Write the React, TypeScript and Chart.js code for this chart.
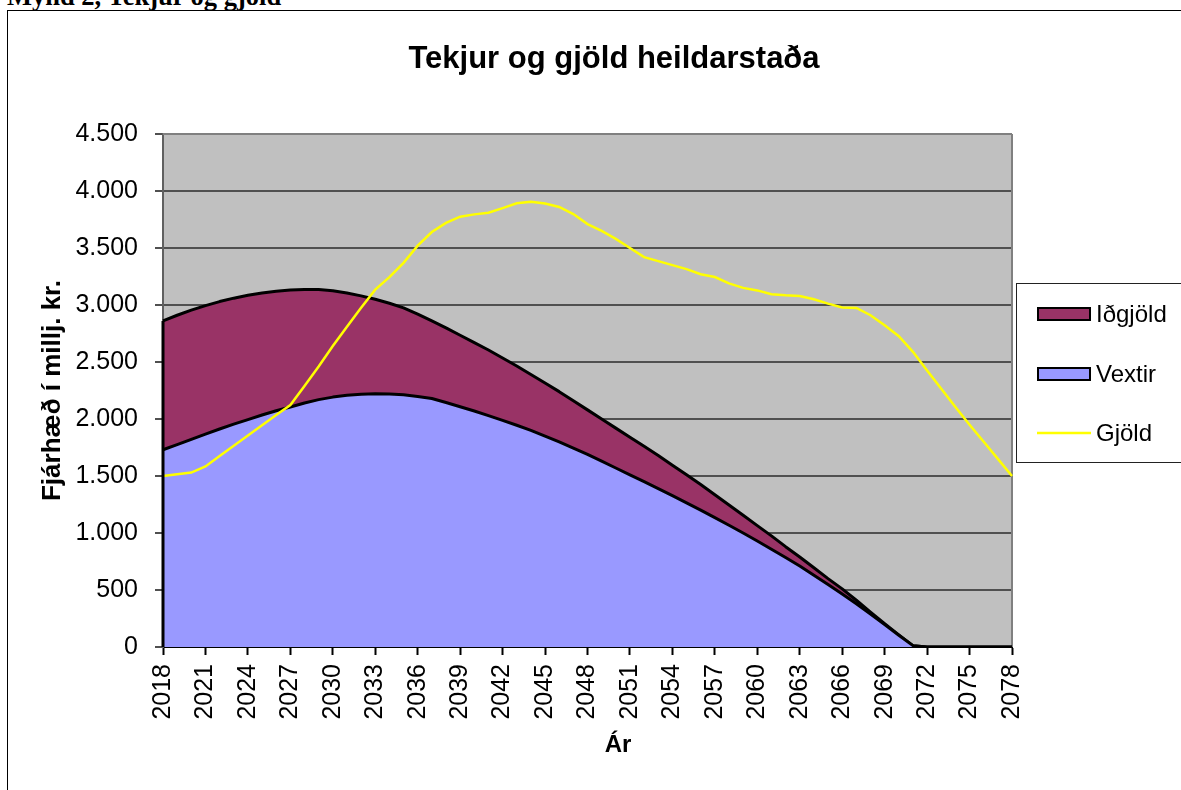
import React, { useEffect, useRef } from 'react';
import { Chart, registerables } from 'chart.js';

Chart.register(...registerables);

const YEARS = [
  '2018', '2019', '2020', '2021', '2022', '2023', '2024', '2025', '2026', '2027',
  '2028', '2029', '2030', '2031', '2032', '2033', '2034', '2035', '2036', '2037',
  '2038', '2039', '2040', '2041', '2042', '2043', '2044', '2045', '2046', '2047',
  '2048', '2049', '2050', '2051', '2052', '2053', '2054', '2055', '2056', '2057',
  '2058', '2059', '2060', '2061', '2062', '2063', '2064', '2065', '2066', '2067',
  '2068', '2069', '2070', '2071', '2072', '2073', '2074', '2075', '2076', '2077',
  '2078',
];

const VEXTIR = [
  1730, 1775, 1822, 1868, 1912, 1955, 1995, 2035, 2072, 2105,
  2140, 2170, 2192, 2208, 2218, 2222, 2220, 2212, 2198, 2180,
  2145, 2108, 2070, 2030, 1988, 1945, 1900, 1850, 1800, 1745,
  1690, 1630, 1570, 1510, 1450, 1390, 1328, 1265, 1200, 1135,
  1068, 1000, 930, 858, 785, 710, 630, 548, 465, 380,
  288, 196, 103, 12, 0, 0, 0, 0, 0, 0,
  0,
];

const IDGJOLD = [
  1130, 1135, 1133, 1127, 1118, 1105, 1090, 1070, 1048, 1027,
  997, 965, 933, 897, 862, 828, 795, 763, 722, 680,
  655, 627, 600, 575, 547, 520, 490, 465, 440, 415,
  390, 370, 350, 330, 310, 290, 267, 245, 225, 200,
  177, 155, 135, 117, 95, 80, 65, 52, 45, 30,
  17, 8, 3, 0, 0, 0, 0, 0, 0, 0,
  0,
];

const GJOLD = [
  1500, 1515, 1530, 1584, 1675, 1765, 1855, 1945, 2035, 2123,
  2290, 2460, 2640, 2810, 2975, 3135, 3245, 3370, 3520, 3640,
  3720, 3775, 3795, 3810, 3850, 3893, 3905, 3890, 3860, 3798,
  3710, 3650, 3580, 3500, 3420, 3385, 3350, 3315, 3270, 3245,
  3190, 3150, 3128, 3095, 3085, 3078, 3050, 3012, 2978, 2974,
  2910, 2822, 2726, 2589, 2425, 2265, 2105, 1950, 1800, 1650,
  1500,
];

const Y_MIN = 0;
const Y_MAX = 4500;
const Y_STEP = 500;

const TITLE = 'Tekjur og gjöld heildarstaða';
const Y_TITLE = 'Fjárhæð í millj. kr.';
const X_TITLE = 'Ár';
const HEADER = 'Mynd 2, Tekjur og gjöld';

const FONT = '"Liberation Sans", Arial, Helvetica, sans-serif';
const CW = 1228;
const CH = 790;

function fmt(v: number): string {
  return String(v).replace(/\B(?=(\d{3})+(?!\d))/g, '.');
}

const decorPlugin = {
  id: 'decor',
  beforeDraw(chart: any) {
    const { ctx, chartArea: a } = chart;
    ctx.save();
    ctx.fillStyle = '#C0C0C0';
    ctx.fillRect(a.left, a.top, a.right - a.left, a.bottom - a.top);
    ctx.restore();
  },
  beforeDatasetsDraw(chart: any) {
    const { ctx, chartArea: a } = chart;
    ctx.save();
    ctx.strokeStyle = '#808080';
    ctx.lineWidth = 2;
    ctx.beginPath();
    ctx.moveTo(a.right, a.top);
    ctx.lineTo(a.right, a.bottom);
    ctx.moveTo(a.left, a.top);
    ctx.lineTo(a.right, a.top);
    ctx.stroke();
    ctx.restore();
  },
  afterDatasetsDraw(chart: any) {
    const { ctx, chartArea: a } = chart;
    const ys = chart.scales.y;
    ctx.save();
    ctx.strokeStyle = '#000';
    ctx.lineWidth = 3;
    ctx.beginPath();
    ctx.moveTo(a.left, ys.getPixelForValue(0));
    ctx.lineTo(a.left, ys.getPixelForValue(VEXTIR[0] + IDGJOLD[0]));
    ctx.stroke();
    ctx.restore();
  },
  afterDraw(chart: any) {
    const { ctx } = chart;
    ctx.save();
    ctx.strokeStyle = '#222';
    ctx.lineWidth = 1;
    ctx.strokeRect(1016.5, 283.5, 260, 179);
    const ds = chart.data.datasets;
    const items = [
      { ds: ds[2], y: 314, kind: 'box' },
      { ds: ds[1], y: 374, kind: 'box' },
      { ds: ds[0], y: 433, kind: 'line' },
    ];
    ctx.font = `24px ${FONT}`;
    ctx.textBaseline = 'middle';
    ctx.textAlign = 'left';
    for (const it of items) {
      if (it.kind === 'box') {
        ctx.fillStyle = it.ds.backgroundColor;
        ctx.fillRect(1038, it.y - 6, 52, 12);
        ctx.strokeStyle = '#000';
        ctx.lineWidth = 2;
        ctx.strokeRect(1038, it.y - 6, 52, 12);
      } else {
        ctx.strokeStyle = it.ds.borderColor;
        ctx.lineWidth = 2.5;
        ctx.beginPath();
        ctx.moveTo(1037, it.y);
        ctx.lineTo(1091, it.y);
        ctx.stroke();
      }
      ctx.fillStyle = '#000';
      ctx.fillText(it.ds.label, 1096, it.y + 1);
    }
    ctx.font = `bold 24px ${FONT}`;
    ctx.textAlign = 'center';
    ctx.fillText(X_TITLE, 618, 745);
    ctx.restore();
  },
};

export default function App() {
  const ref = useRef<HTMLCanvasElement | null>(null);

  useEffect(() => {
    if (!ref.current) return;
    const chart = new Chart(ref.current, {
      type: 'line',
      data: {
        labels: YEARS,
        datasets: [
          {
            label: 'Gjöld',
            data: GJOLD,
            borderColor: '#FFFF00',
            backgroundColor: '#FFFF00',
            borderWidth: 2.5,
            fill: false,
            stack: 'g',
            pointRadius: 0,
            tension: 0,
          },
          {
            label: 'Vextir',
            data: VEXTIR,
            borderColor: '#000000',
            backgroundColor: '#9999FF',
            borderWidth: 3,
            fill: 'origin',
            stack: 's',
            pointRadius: 0,
            tension: 0,
            borderJoinStyle: 'round',
          },
          {
            label: 'Iðgjöld',
            data: IDGJOLD,
            borderColor: '#000000',
            backgroundColor: '#993366',
            borderWidth: 3,
            fill: '-1',
            stack: 's',
            pointRadius: 0,
            tension: 0,
            borderJoinStyle: 'round',
          },
        ],
      } as any,
      options: {
        responsive: false,
        animation: false,
        devicePixelRatio: 1,
        layout: { padding: 0 },
        plugins: {
          legend: { display: false },
          tooltip: { enabled: false },
          title: {
            display: true,
            text: TITLE,
            color: '#000',
            font: { family: FONT, size: 31, weight: 'bold', lineHeight: 1.2 },
            padding: { top: 40.4, bottom: 56.4 },
          },
        },
        scales: {
          x: {
            type: 'category',
            offset: false,
            grid: {
              drawOnChartArea: false,
              drawTicks: true,
              tickLength: 8,
              tickWidth: 2,
              tickColor: (c: any) => (c.index % 3 === 0 ? '#000' : 'rgba(0,0,0,0)'),
            },
            border: { display: true, color: '#000', width: 2 },
            ticks: {
              autoSkip: false,
              minRotation: 90,
              maxRotation: 90,
              padding: 9,
              color: '#000',
              font: { family: FONT, size: 25 },
              callback: (_v: any, i: number) => (i % 3 === 0 ? YEARS[i] : ''),
            },
            afterFit: (s: any) => {
              s.height = 143;
            },
          },
          y: {
            stacked: true,
            min: Y_MIN,
            max: Y_MAX,
            grid: {
              color: '#505050',
              lineWidth: 2,
              drawTicks: true,
              tickLength: 8,
              tickColor: '#505050',
            },
            border: { display: true, color: '#606060', width: 2 },
            ticks: {
              stepSize: Y_STEP,
              padding: 17,
              color: '#000',
              font: { family: FONT, size: 25 },
              callback: (v: any) => fmt(Number(v)),
            },
            title: {
              display: true,
              text: Y_TITLE,
              color: '#000',
              font: { family: FONT, size: 26, weight: 'bold' },
              padding: { top: 37, bottom: 0 },
            },
            afterFit: (s: any) => {
              s.width = 163;
            },
          },
          y2: {
            position: 'right',
            display: true,
            grid: { display: false, drawTicks: false },
            ticks: { display: false },
            border: { display: false },
            afterFit: (s: any) => {
              s.width = CW - 1012;
            },
          },
        },
      } as any,
      plugins: [decorPlugin],
    });
    return () => chart.destroy();
  }, []);

  return (
    <div
      style={{
        position: 'fixed',
        left: 0,
        top: 0,
        width: 1181,
        height: 790,
        overflow: 'hidden',
        background: '#fff',
      }}
    >
      <div
        style={{
          position: 'absolute',
          left: 7,
          top: -17,
          font: 'bold 26.5px "Liberation Serif", "Times New Roman", serif',
          lineHeight: '26px',
          whiteSpace: 'nowrap',
          color: '#000',
        }}
      >
        {HEADER}
      </div>
      <div
        style={{
          position: 'absolute',
          left: 7,
          top: 10,
          width: 1400,
          height: 1000,
          border: '1px solid #000',
        }}
      />
      <canvas
        ref={ref}
        width={CW}
        height={CH}
        style={{ position: 'absolute', left: 0, top: 0, width: CW, height: CH }}
      />
    </div>
  );
}
